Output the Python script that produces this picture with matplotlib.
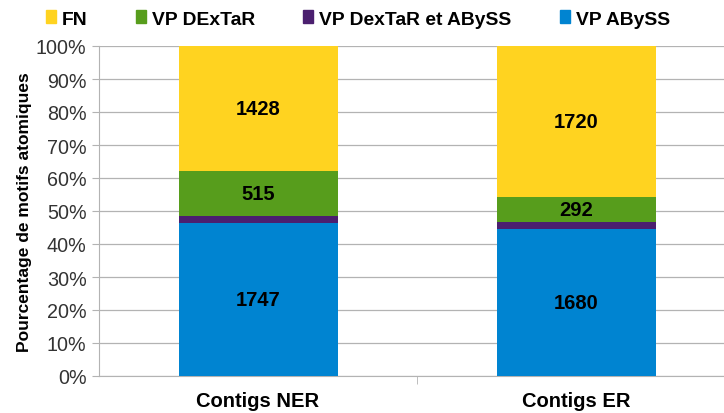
import numpy as np
import matplotlib.pyplot as plt
from matplotlib.patches import Patch
from matplotlib.ticker import PercentFormatter

plt.rcParams['font.family'] = ['Liberation Sans', 'DejaVu Sans']

categories = ["Contigs NER", "Contigs ER"]
series_names = ["VP ABySS", "VP DexTaR et ABySS", "VP DExTaR", "FN"]
vp_abyss = [1747, 1680]
vp_both = [80, 75]
vp_dextar = [515, 292]
fn = [1428, 1720]
colors = ["#0084D1", "#4B1F6F", "#579D1C", "#FFD320"]
show_label = [True, False, True, True]

counts = np.array([vp_abyss, vp_both, vp_dextar, fn], dtype=float)
pct = counts / counts.sum(axis=0) * 100

fig = plt.figure(figsize=(7.24, 4.14), dpi=100)
ax = fig.add_axes([99 / 724, 37 / 414, 636 / 724, 330 / 414])

x = np.arange(len(categories))
bottom = np.zeros(len(categories))
for i in range(len(series_names)):
    ax.bar(x, pct[i], 0.5, bottom=bottom, color=colors[i], zorder=3)
    if show_label[i]:
        for j in range(len(categories)):
            ax.text(x[j], bottom[j] + pct[i, j] / 2, f"{int(counts[i, j])}",
                    ha="center", va="center", fontsize=14.5, fontweight="bold", zorder=4)
    bottom += pct[i]

ax.set_xlim(-0.5, 1.5)
ax.set_ylim(0, 100)
ax.set_yticks(np.arange(0, 101, 10))
ax.yaxis.set_major_formatter(PercentFormatter(decimals=0))
ax.set_xticks(x)
ax.set_xticklabels(categories, fontsize=14.5, fontweight="bold")
ax.set_xticks([0.5], minor=True)
ax.tick_params(axis="x", which="major", length=0, pad=11)
ax.tick_params(axis="x", which="minor", length=6, color="#b3b3b3")
ax.tick_params(axis="y", labelsize=14.2, length=5, pad=4, color="#b3b3b3", colors="#333333")
ax.set_ylabel("Pourcentage de motifs atomiques", fontsize=12.5, fontweight="bold", labelpad=3)
ax.grid(axis="y", color="#b3b3b3", linewidth=0.9, zorder=0)
for s in ["top", "right"]:
    ax.spines[s].set_visible(False)
ax.spines["left"].set_color("#b3b3b3")
ax.spines["bottom"].set_color("#b3b3b3")

# légende en haut, ordre inverse de l'empilement
handles = [Patch(color=colors[i], label=series_names[i]) for i in [3, 2, 1, 0]]
fig.legend(handles=handles, loc="center left", bbox_to_anchor=(46 / 724, 1 - 20 / 414),
           ncol=4, frameon=False, borderpad=0, borderaxespad=0,
           prop={"weight": "bold", "size": 13.9},
           handlelength=0.52, handleheight=0.62, handletextpad=0.31, columnspacing=2.5)

fig.savefig("out.png", dpi=100)
